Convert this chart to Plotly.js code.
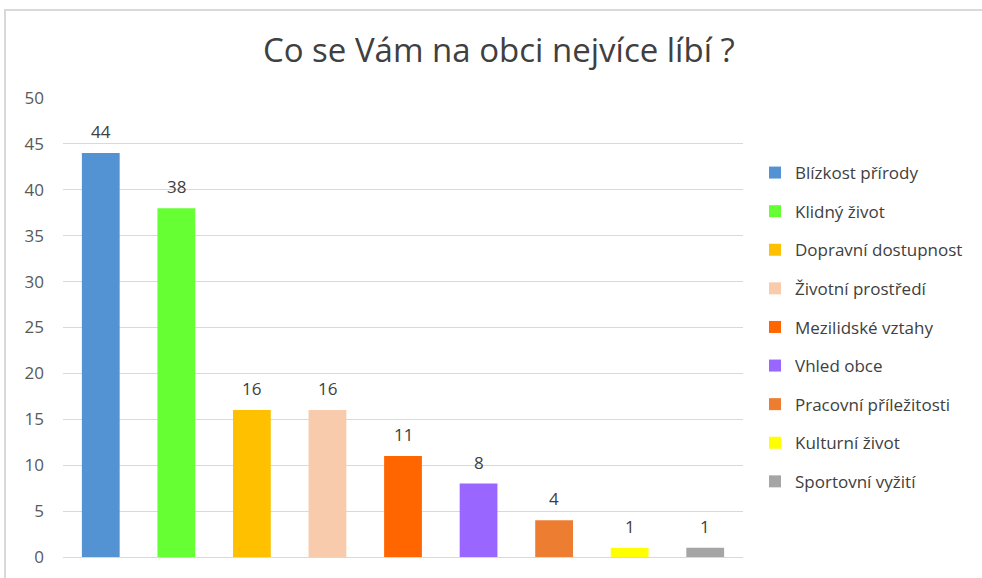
<!DOCTYPE html>
<html>
<head>
<meta charset="utf-8">
<script src="https://cdn.plot.ly/plotly-3.0.1.min.js"></script>
<style>
  html, body { margin: 0; padding: 0; background: #ffffff; overflow: hidden; }
  #chart { position: absolute; left: 0; top: 0; width: 982px; height: 578px; }
</style>
</head>
<body>
<div id="chart"></div>
<script>
const categories = ["Blízkost přírody", "Klidný život", "Dopravní dostupnost", "Životní prostředí", "Mezilidské vztahy", "Vhled obce", "Pracovní příležitosti", "Kulturní život", "Sportovní vyžití"];
const values = [44, 38, 16, 16, 11, 8, 4, 1, 1];
const colors = ["#5393d4", "#66ff33", "#ffc000", "#f8cbad", "#ff6600", "#9966ff", "#ed7d31", "#ffff00", "#a5a5a5"];
const yTicks = [0, 5, 10, 15, 20, 25, 30, 35, 40, 45, 50];

const FONT = "Open Sans, Noto Sans, sans-serif";
const TXT = "#404040";

const W = 982, H = 578;
const M = { l: 63, r: 239, t: 98, b: 21 };
const PW = W - M.l - M.r, PH = H - M.t - M.b;

const traces = categories.map((c, i) => ({
  type: "bar",
  name: c,
  x: [c],
  y: [values[i]],
  legendgroup: "g" + i,
  marker: { color: colors[i], line: { width: 0 } },
  hoverinfo: "x+y"
}));

const annotations = categories.map((c, i) => ({
  x: c, y: values[i], xref: "x", yref: "y",
  text: String(values[i]),
  showarrow: false, yanchor: "bottom", yshift: 8,
  font: { family: FONT, size: 17, color: TXT }
}));

// outer chart frame (extends beyond the page on the right and bottom)
const frame = {
  type: "rect", xref: "paper", yref: "paper", layer: "below",
  x0: (5 - M.l) / PW, x1: (W + 50 - M.l) / PW,
  y0: (H - M.b - (H + 50)) / PH, y1: (H - M.b - 10) / PH,
  line: { color: "#d9d9d9", width: 2 },
  fillcolor: "rgba(0,0,0,0)"
};

const layout = {
  width: W, height: H,
  margin: { l: M.l, r: M.r, t: M.t, b: M.b, pad: 0 },
  paper_bgcolor: "#ffffff",
  plot_bgcolor: "rgba(0,0,0,0)",
  barmode: "overlay",
  bargap: 0.5,
  title: {
    text: "Co se Vám na obci nejvíce líbí ?",
    x: 0.508, xanchor: "center",
    y: 1 - 50 / H, yanchor: "middle",
    font: { family: FONT, size: 33, color: TXT }
  },
  xaxis: {
    type: "category",
    showticklabels: false,
    showgrid: false,
    zeroline: false,
    showline: false,
    ticks: "",
    fixedrange: true
  },
  yaxis: {
    range: [0, 50],
    tickvals: yTicks,
    ticktext: yTicks.map(String),
    showgrid: true,
    gridcolor: "#d9d9d9",
    gridwidth: 1,
    zeroline: true,
    zerolinecolor: "#d9d9d9",
    zerolinewidth: 1,
    showline: false,
    ticks: "",
    ticklabelstandoff: 18,
    tickfont: { family: FONT, size: 17, color: "#595959" },
    fixedrange: true
  },
  showlegend: true,
  legend: {
    x: (755 - M.l) / PW, xanchor: "left",
    y: (H - M.b - 155) / PH, yanchor: "top",
    font: { family: FONT, size: 17, color: TXT },
    tracegroupgap: 13.5,
    bgcolor: "rgba(0,0,0,0)",
    itemclick: false, itemdoubleclick: false
  },
  shapes: [frame],
  annotations: annotations
};

Plotly.newPlot("chart", traces, layout, { displayModeBar: false, staticPlot: true });
</script>
</body>
</html>
